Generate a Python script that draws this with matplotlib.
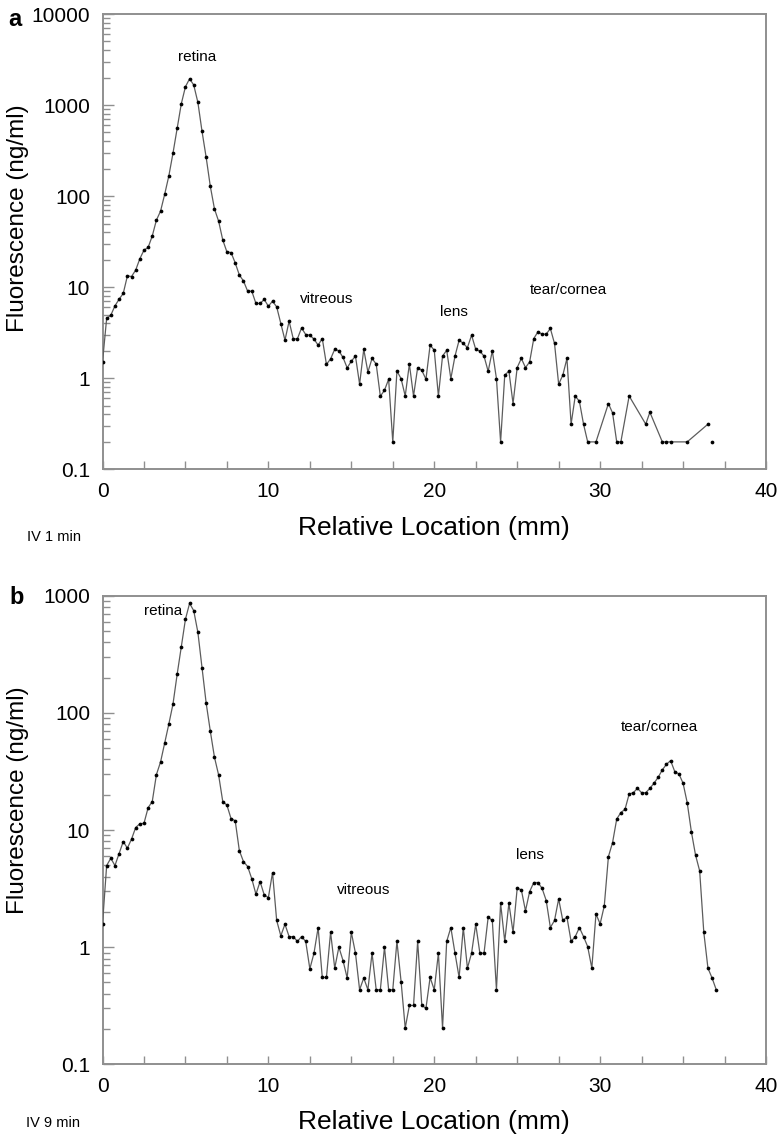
import numpy as np
import matplotlib
matplotlib.use('Agg')
import matplotlib.pyplot as plt
from matplotlib.ticker import MultipleLocator, LogLocator, NullFormatter

plt.rcParams['font.family'] = ['Liberation Sans', 'DejaVu Sans']

# ---------------- data (Relative location in mm, fluorescence in ng/ml) ----------------
step_mm = 0.25

# Panel a (IV 1 min): regular 0.25 mm samples from 0 to 29.25 mm
a_x_regular = np.arange(0, 29.25 + 1e-9, step_mm)
a_y_regular = [
    1.51, 4.53, 4.92, 6.23, 7.38, 8.53, 13.3, 13.1,
    15.4, 20.5, 25.5, 27.3, 36.5, 54.5, 68.4, 105,
    167, 297, 555, 1032, 1589, 1945, 1660, 1071,
    514, 266, 128, 72.4, 53.1, 33, 24.4, 24.0,
    18.5, 13.6, 11.7, 9.03, 9.03, 6.62, 6.62, 7.33,
    6.18, 7.02, 6.08, 3.99, 2.62, 4.23, 2.71, 2.71,
    3.57, 3.02, 2.97, 2.69, 2.31, 2.73, 1.42, 1.63,
    2.08, 2.0, 1.69, 1.30, 1.54, 1.75, 0.86, 2.08,
    1.17, 1.65, 1.43, 0.634, 0.738, 0.975, 0.2, 1.20,
    0.99, 0.638, 1.43, 0.638, 1.31, 1.22, 0.975, 2.31,
    2.03, 0.638, 1.75, 2.03, 0.99, 1.75, 2.62, 2.41,
    2.17, 2.97, 2.08, 1.98, 1.75, 1.19, 2.0, 0.99,
    0.2, 1.08, 1.20, 0.527, 1.31, 1.65, 1.31, 1.51,
    2.73, 3.23, 3.05, 3.05, 3.52, 2.41, 0.86, 1.08,
    1.65, 0.313, 0.638, 0.558, 0.313, 0.2,
]
# Panel a sparse tail (missing samples beyond 29 mm)
a_x_tail = [29.75, 30.5, 30.75, 31.0, 31.25, 31.75, 32.75, 33.0,
            33.75, 34.0, 34.25, 35.25, 36.5]
a_y_tail = [0.2, 0.527, 0.416, 0.2, 0.2, 0.638, 0.313, 0.423,
            0.2, 0.2, 0.2, 0.2, 0.313]
# Panel a last, unconnected point
a_x_single = [36.75]
a_y_single = [0.2]

# Panel b (IV 9 min): regular 0.25 mm samples from 0 to 37 mm
b_x = np.arange(0, 37 + 1e-9, step_mm)
b_y = [
    1.57, 4.97, 5.74, 4.97, 6.29, 7.96, 7.0, 8.36,
    10.5, 11.3, 11.4, 15.5, 17.5, 29.7, 38.1, 55.4,
    80.4, 119, 213, 367, 629, 861, 745, 487,
    242, 121, 69.7, 41.8, 29.5, 17.5, 16.3, 12.5,
    12.0, 6.67, 5.37, 4.88, 3.83, 2.83, 3.63, 2.79,
    2.65, 4.33, 1.69, 1.25, 1.57, 1.23, 1.23, 1.12,
    1.23, 1.12, 0.653, 0.889, 1.47, 0.551, 0.551, 1.34,
    0.662, 1.0, 0.769, 0.545, 1.34, 0.889, 0.433, 0.545,
    0.433, 0.889, 0.433, 0.433, 1.0, 0.433, 0.433, 1.12,
    0.509, 0.204, 0.318, 0.318, 1.12, 0.318, 0.301, 0.551,
    0.433, 0.889, 0.204, 1.12, 1.47, 0.889, 0.551, 1.47,
    0.662, 0.889, 1.57, 0.889, 0.889, 1.80, 1.69, 0.433,
    2.37, 1.12, 2.37, 1.34, 3.18, 3.09, 2.04, 2.98,
    3.56, 3.56, 3.18, 2.50, 1.47, 1.69, 2.58, 1.69,
    1.80, 1.12, 1.23, 1.47, 1.23, 1.01, 0.662, 1.92,
    1.58, 2.25, 5.93, 7.81, 12.4, 14.1, 15.0, 20.3,
    20.8, 22.7, 20.8, 20.8, 22.7, 25.1, 28.2, 32.6,
    36.4, 39.1, 31.5, 30.1, 25.1, 17.1, 9.68, 6.13,
    4.48, 1.34, 0.662, 0.545, 0.433,
]

x_ticks = [0, 10, 20, 30, 40]
x_tick_labels = ['0', '10', '20', '30', '40']
a_y_ticks = [0.1, 1, 10, 100, 1000, 10000]
a_y_tick_labels = ['0.1', '1', '10', '100', '1000', '10000']
b_y_ticks = [0.1, 1, 10, 100, 1000]
b_y_tick_labels = ['0.1', '1', '10', '100', '1000']

regions = ['retina', 'vitreous', 'lens', 'tear/cornea']
a_region_pos = [(0.142, 0.906), (0.338, 0.375), (0.530, 0.346), (0.702, 0.394)]
b_region_pos = [(0.091, 0.968), (0.393, 0.372), (0.644, 0.446), (0.840, 0.720)]

# ---------------- figure ----------------
W, H = 783, 1140
fig = plt.figure(figsize=(W / 100, H / 100), dpi=100)
fig.patch.set_facecolor('white')

ax_a = fig.add_axes([102.5 / W, 1 - 469.3 / H, 663.5 / W, 455.3 / H])
ax_b = fig.add_axes([102.5 / W, 1 - 1064.3 / H, 663.5 / W, 468.6 / H])

SPINE = '#8f8f8f'
LINE = '#5c5c5c'


def style(ax, ylim, yticks, ylabels, xlab_y, ylab_y):
    ax.set_yscale('log')
    ax.set_xlim(0, 40)
    ax.set_ylim(*ylim)
    for s in ax.spines.values():
        s.set_color(SPINE)
        s.set_linewidth(1.4)
    ax.set_xticks(x_ticks)
    ax.set_xticklabels(x_tick_labels)
    ax.xaxis.set_minor_locator(MultipleLocator(2.5))
    ax.set_yticks(yticks)
    ax.set_yticklabels(ylabels)
    ax.yaxis.set_minor_locator(LogLocator(base=10, subs=range(2, 10), numticks=20))
    ax.yaxis.set_minor_formatter(NullFormatter())
    ax.tick_params(axis='both', which='both', direction='in', color=SPINE,
                   width=1.0, top=False, right=False, labelcolor='black')
    ax.tick_params(axis='x', which='both', length=6, pad=9, labelsize=15)
    ax.tick_params(axis='y', which='major', length=8, pad=9, labelsize=15)
    ax.tick_params(axis='y', which='minor', length=5)
    ax.set_xlabel('Relative Location (mm)', fontsize=19, va='center')
    ax.xaxis.set_label_coords(0.5, xlab_y)
    ax.set_ylabel('Fluorescence (ng/ml)', fontsize=17.5, va='center')
    ax.yaxis.set_label_coords(-0.127, ylab_y)


def draw(ax, x, y, connect=True):
    ax.plot(x, y, color=LINE, lw=0.9, ls='-' if connect else 'none',
            marker='o', ms=2.7, mfc='black', mec='black', mew=0, zorder=3)


# Panel a
draw(ax_a, np.concatenate([a_x_regular, a_x_tail]), list(a_y_regular) + list(a_y_tail))
draw(ax_a, a_x_single, a_y_single, connect=False)
style(ax_a, (0.1, 10000), a_y_ticks, a_y_tick_labels, -0.129, 0.551)
for name, (px, py) in zip(regions, a_region_pos):
    ax_a.text(px, py, name, transform=ax_a.transAxes, ha='center', va='center', fontsize=11)

# Panel b
draw(ax_b, b_x, b_y)
style(ax_b, (0.1, 1000), b_y_ticks, b_y_tick_labels, -0.123, 0.563)
for name, (px, py) in zip(regions, b_region_pos):
    ax_b.text(px, py, name, transform=ax_b.transAxes, ha='center', va='center', fontsize=11)

# Panel letters and condition notes
fig.text(15 / W, 1 - 19 / H, 'a', fontsize=17, fontweight='bold', ha='center', va='center')
fig.text(16.5 / W, 1 - 598 / H, 'b', fontsize=17, fontweight='bold', ha='center', va='center')
fig.text(27 / W, 1 - 537 / H, 'IV 1 min', fontsize=10.5, ha='left', va='center')
fig.text(26 / W, 1 - 1123 / H, 'IV 9 min', fontsize=10.5, ha='left', va='center')

fig.savefig('out.png', dpi=100, facecolor='white')
